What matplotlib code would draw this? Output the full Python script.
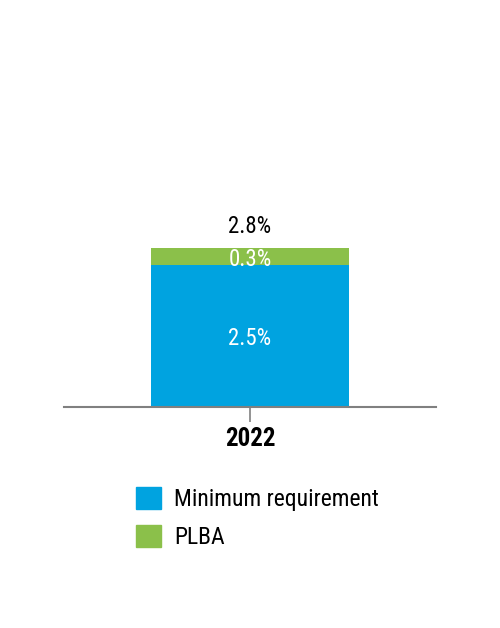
import matplotlib
matplotlib.use('Agg')
import matplotlib.pyplot as plt
from matplotlib.patches import Patch

plt.rcParams['font.family'] = ['Roboto Condensed', 'Archivo Narrow', 'Liberation Sans', 'DejaVu Sans']

years = ['2022']
minimum_req = [2.5]
plba = [0.3]
series_names = ['Minimum requirement', 'PLBA']

blue = '#00A3E0'
green = '#8BC04A'

fig = plt.figure(figsize=(5, 6.28), dpi=100)
ax = fig.add_axes([64 / 500, 1 - 406.5 / 628, 372 / 500, 300 / 628])

X = list(range(len(years)))
ax.bar(X, minimum_req, width=0.53, color=blue)
ax.bar(X, plba, bottom=minimum_req, width=0.53, color=green)

for x, a, b in zip(X, minimum_req, plba):
    ax.text(x, a * 0.432, '{:.1f}%'.format(a), ha='center', va='baseline', color='white', fontsize=16.5)
    ax.text(x, a - 0.02, '{:.1f}%'.format(b), ha='center', va='baseline', color='white', fontsize=16.5)
    ax.text(x, a + b + 0.26, '{:.1f}%'.format(a + b), ha='center', va='baseline', color='black', fontsize=16.5)

ax.set_xlim(-0.5, 0.5)
ax.set_ylim(0, 300 / 56.6)
ax.set_xticks(X)
ax.set_xticklabels(years, fontsize=18, fontweight='bold')
ax.tick_params(axis='x', length=11, width=1.2, color='#808080', pad=4)
ax.set_yticks([])
for s in ['top', 'right', 'left']:
    ax.spines[s].set_visible(False)
ax.spines['bottom'].set_color('#808080')
ax.spines['bottom'].set_linewidth(1.5)

handles = [Patch(color=blue), Patch(color=green)]
fig.legend(handles, series_names, loc='upper left', bbox_to_anchor=(136 / 500, 1 - 487 / 628),
           frameon=False, fontsize=17, handlelength=1.05, handleheight=1.03,
           labelspacing=0.6, handletextpad=0.55, borderpad=0, borderaxespad=0)

plt.savefig('out.png', dpi=100)
